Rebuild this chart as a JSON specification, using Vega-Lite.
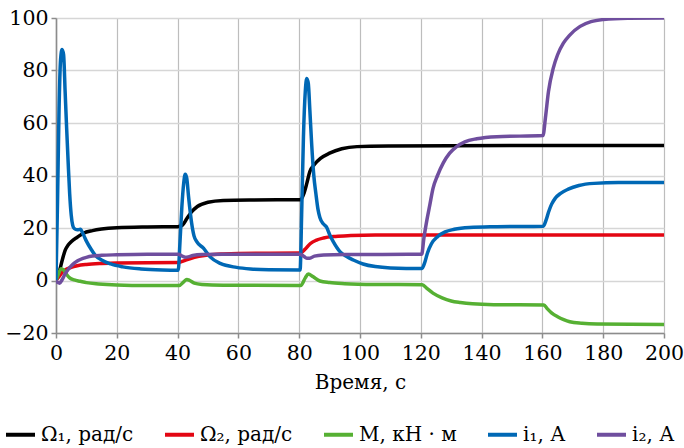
{
  "$schema": "https://vega.github.io/schema/vega-lite/v6.json",
  "width": 608,
  "height": 315,
  "autosize": "none",
  "padding": {"left": 56, "top": 18, "right": 20, "bottom": 115},
  "background": "white",
  "config": {
    "font": "DejaVu Serif",
    "view": {"stroke": null},
    "axis": {
      "labelFont": "DejaVu Serif",
      "titleFont": "DejaVu Serif",
      "labelFontSize": 20.5,
      "titleFontSize": 20,
      "labelColor": "#000",
      "titleColor": "#000",
      "titleFontWeight": "normal",
      "domainColor": "#8c8c8c",
      "domainWidth": 1.6,
      "tickColor": "#8c8c8c",
      "tickWidth": 1.5,
      "tickSize": 5
    }
  },
  "datasets": {
    "d": [
      {"s":"O1","t":0,"v":0},{"s":"O1","t":1,"v":3},{"s":"O1","t":2,"v":7.5},{"s":"O1","t":3,"v":11.5},{"s":"O1","t":4,"v":13.5},{"s":"O1","t":5,"v":14.8},{"s":"O1","t":7,"v":16.5},{"s":"O1","t":9,"v":18},{"s":"O1","t":12,"v":19},{"s":"O1","t":15,"v":19.6},{"s":"O1","t":20,"v":20.1},{"s":"O1","t":30,"v":20.4},{"s":"O1","t":40,"v":20.5},{"s":"O1","t":41.5,"v":21},{"s":"O1","t":43,"v":23.5},{"s":"O1","t":44.5,"v":26},{"s":"O1","t":46.5,"v":28.2},{"s":"O1","t":50,"v":29.8},{"s":"O1","t":55,"v":30.5},{"s":"O1","t":65,"v":30.7},{"s":"O1","t":80.5,"v":30.8},{"s":"O1","t":81.5,"v":33},{"s":"O1","t":82.5,"v":37},{"s":"O1","t":83.5,"v":41.5},{"s":"O1","t":85,"v":44.2},{"s":"O1","t":87,"v":46.5},{"s":"O1","t":90,"v":48.5},{"s":"O1","t":94,"v":50.2},{"s":"O1","t":99,"v":51},{"s":"O1","t":110,"v":51.2},{"s":"O1","t":150,"v":51.4},{"s":"O1","t":200,"v":51.4},

      {"s":"O2","t":0,"v":0},{"s":"O2","t":1,"v":1.5},{"s":"O2","t":2,"v":3},{"s":"O2","t":3,"v":4},{"s":"O2","t":5,"v":5},{"s":"O2","t":7,"v":5.6},{"s":"O2","t":10,"v":6.1},{"s":"O2","t":15,"v":6.5},{"s":"O2","t":20,"v":6.7},{"s":"O2","t":40.5,"v":6.9},{"s":"O2","t":42,"v":7.5},{"s":"O2","t":44,"v":8.3},{"s":"O2","t":47,"v":9.2},{"s":"O2","t":50,"v":9.7},{"s":"O2","t":55,"v":10.1},{"s":"O2","t":60,"v":10.3},{"s":"O2","t":80.5,"v":10.5},{"s":"O2","t":82,"v":12},{"s":"O2","t":83.6,"v":14},{"s":"O2","t":85.5,"v":15.3},{"s":"O2","t":88,"v":16.2},{"s":"O2","t":92,"v":16.8},{"s":"O2","t":97,"v":17.1},{"s":"O2","t":105,"v":17.3},{"s":"O2","t":200,"v":17.3},

      {"s":"M","t":0,"v":0},{"s":"M","t":0.8,"v":2.5},{"s":"M","t":1.7,"v":4.5},{"s":"M","t":2.5,"v":4},{"s":"M","t":3.5,"v":2.3},{"s":"M","t":4.5,"v":1},{"s":"M","t":6,"v":0.2},{"s":"M","t":8,"v":-0.3},{"s":"M","t":10,"v":-0.8},{"s":"M","t":14,"v":-1.3},{"s":"M","t":20,"v":-1.7},{"s":"M","t":30,"v":-1.9},{"s":"M","t":40.5,"v":-1.9},{"s":"M","t":42,"v":-0.5},{"s":"M","t":43,"v":0.4},{"s":"M","t":44,"v":0},{"s":"M","t":45.5,"v":-1},{"s":"M","t":48,"v":-1.5},{"s":"M","t":55,"v":-1.8},{"s":"M","t":80.5,"v":-1.9},{"s":"M","t":82,"v":1},{"s":"M","t":83,"v":2.5},{"s":"M","t":84.5,"v":1.5},{"s":"M","t":86.8,"v":-0.2},{"s":"M","t":90,"v":-0.8},{"s":"M","t":95,"v":-1.2},{"s":"M","t":105,"v":-1.5},{"s":"M","t":120.5,"v":-1.6},{"s":"M","t":122,"v":-3},{"s":"M","t":124,"v":-4.8},{"s":"M","t":127,"v":-6.6},{"s":"M","t":130,"v":-7.8},{"s":"M","t":133,"v":-8.4},{"s":"M","t":137,"v":-8.9},{"s":"M","t":144,"v":-9.2},{"s":"M","t":160.5,"v":-9.3},{"s":"M","t":161.5,"v":-10.6},{"s":"M","t":163,"v":-12.3},{"s":"M","t":165,"v":-13.8},{"s":"M","t":167,"v":-14.9},{"s":"M","t":169,"v":-15.7},{"s":"M","t":173,"v":-16.3},{"s":"M","t":178,"v":-16.6},{"s":"M","t":200,"v":-16.8},

      {"s":"i1","t":0,"v":0},{"s":"i1","t":0.5,"v":30},{"s":"i1","t":1,"v":65},{"s":"i1","t":1.5,"v":84},{"s":"i1","t":2,"v":88},{"s":"i1","t":2.5,"v":86},{"s":"i1","t":3,"v":72},{"s":"i1","t":3.5,"v":58},{"s":"i1","t":4,"v":45},{"s":"i1","t":4.5,"v":33},{"s":"i1","t":5,"v":25},{"s":"i1","t":5.5,"v":21},{"s":"i1","t":6,"v":19.8},{"s":"i1","t":7,"v":19.3},{"s":"i1","t":8,"v":19.5},{"s":"i1","t":9,"v":17.5},{"s":"i1","t":10,"v":15},{"s":"i1","t":11.5,"v":12},{"s":"i1","t":13,"v":9.5},{"s":"i1","t":15,"v":7.8},{"s":"i1","t":18,"v":6.3},{"s":"i1","t":22,"v":5.2},{"s":"i1","t":28,"v":4.4},{"s":"i1","t":35,"v":4},{"s":"i1","t":40.2,"v":3.9},{"s":"i1","t":40.8,"v":15},{"s":"i1","t":41.4,"v":28},{"s":"i1","t":42,"v":37},{"s":"i1","t":42.5,"v":40.5},{"s":"i1","t":43,"v":39},{"s":"i1","t":43.6,"v":32},{"s":"i1","t":44.6,"v":22},{"s":"i1","t":45.4,"v":17},{"s":"i1","t":46.3,"v":14.8},{"s":"i1","t":48.5,"v":12.3},{"s":"i1","t":50.7,"v":9},{"s":"i1","t":54,"v":6.5},{"s":"i1","t":59.4,"v":5},{"s":"i1","t":64,"v":4.4},{"s":"i1","t":70,"v":4.1},{"s":"i1","t":80.3,"v":4},{"s":"i1","t":80.8,"v":25},{"s":"i1","t":81.4,"v":55},{"s":"i1","t":82,"v":72},{"s":"i1","t":82.5,"v":77},{"s":"i1","t":83,"v":75},{"s":"i1","t":83.5,"v":65},{"s":"i1","t":84.1,"v":52},{"s":"i1","t":84.8,"v":40},{"s":"i1","t":85.5,"v":33},{"s":"i1","t":86.2,"v":27},{"s":"i1","t":86.8,"v":24},{"s":"i1","t":88,"v":21.5},{"s":"i1","t":89,"v":20.3},{"s":"i1","t":90,"v":17.5},{"s":"i1","t":91.2,"v":14.8},{"s":"i1","t":93.4,"v":11},{"s":"i1","t":95.5,"v":9.2},{"s":"i1","t":97.8,"v":7.8},{"s":"i1","t":101,"v":6.3},{"s":"i1","t":105,"v":5.3},{"s":"i1","t":110,"v":4.8},{"s":"i1","t":120.4,"v":4.6},{"s":"i1","t":121.2,"v":6.5},{"s":"i1","t":122.2,"v":10.5},{"s":"i1","t":123.5,"v":14},{"s":"i1","t":125.5,"v":16.7},{"s":"i1","t":128,"v":18.5},{"s":"i1","t":131,"v":19.5},{"s":"i1","t":136,"v":20.2},{"s":"i1","t":145,"v":20.5},{"s":"i1","t":160.3,"v":20.7},{"s":"i1","t":161.2,"v":23},{"s":"i1","t":162,"v":26},{"s":"i1","t":163,"v":29},{"s":"i1","t":164.2,"v":31.3},{"s":"i1","t":166,"v":33.2},{"s":"i1","t":168.5,"v":34.8},{"s":"i1","t":172,"v":36.2},{"s":"i1","t":177,"v":37},{"s":"i1","t":185,"v":37.3},{"s":"i1","t":200,"v":37.3},

      {"s":"i2","t":0,"v":0},{"s":"i2","t":0.6,"v":-0.8},{"s":"i2","t":1.2,"v":-1},{"s":"i2","t":2,"v":0.3},{"s":"i2","t":3,"v":2.5},{"s":"i2","t":4,"v":4.2},{"s":"i2","t":5,"v":5.5},{"s":"i2","t":6,"v":6.6},{"s":"i2","t":7,"v":7.4},{"s":"i2","t":8,"v":8},{"s":"i2","t":10,"v":8.8},{"s":"i2","t":12,"v":9.3},{"s":"i2","t":15,"v":9.6},{"s":"i2","t":20,"v":9.8},{"s":"i2","t":30,"v":10},{"s":"i2","t":40.3,"v":10},{"s":"i2","t":41.5,"v":9.3},{"s":"i2","t":42.5,"v":8.9},{"s":"i2","t":43.5,"v":9},{"s":"i2","t":45,"v":9.5},{"s":"i2","t":48,"v":9.9},{"s":"i2","t":55,"v":10},{"s":"i2","t":80.3,"v":10},{"s":"i2","t":81.5,"v":9.2},{"s":"i2","t":82.5,"v":8.5},{"s":"i2","t":83.5,"v":8.5},{"s":"i2","t":85,"v":9.3},{"s":"i2","t":88,"v":9.7},{"s":"i2","t":95,"v":9.9},{"s":"i2","t":120.3,"v":10},{"s":"i2","t":121,"v":16},{"s":"i2","t":122,"v":23},{"s":"i2","t":123,"v":29},{"s":"i2","t":124,"v":35},{"s":"i2","t":125.5,"v":40},{"s":"i2","t":127.4,"v":44.8},{"s":"i2","t":129.5,"v":48.5},{"s":"i2","t":131.8,"v":51},{"s":"i2","t":134.5,"v":52.8},{"s":"i2","t":138.4,"v":54},{"s":"i2","t":145,"v":54.8},{"s":"i2","t":160.2,"v":55.2},{"s":"i2","t":161,"v":62},{"s":"i2","t":162,"v":72},{"s":"i2","t":163.6,"v":81},{"s":"i2","t":165,"v":86},{"s":"i2","t":166.9,"v":90.4},{"s":"i2","t":169,"v":93.5},{"s":"i2","t":172.4,"v":96.8},{"s":"i2","t":176,"v":98.6},{"s":"i2","t":180,"v":99.4},{"s":"i2","t":188,"v":99.9},{"s":"i2","t":200,"v":100}
    ]
  },
  "data": {"name": "d"},
  "mark": {"type": "line", "strokeWidth": 3.5, "interpolate": "monotone", "clip": true},
  "encoding": {
    "x": {
      "field": "t", "type": "quantitative",
      "scale": {"domain": [0, 200], "nice": false},
      "axis": {"values": [0,20,40,60,80,100,120,140,160,180,200], "title": "Время, с", "labelPadding": 5, "titlePadding": 9, "grid": true, "gridColor": "#bdbdbd", "gridWidth": 1.2, "labelFlush": false}
    },
    "y": {
      "field": "v", "type": "quantitative",
      "scale": {"domain": [-20, 100], "nice": false},
      "axis": {"values": [-20,0,20,40,60,80,100], "title": null, "labelPadding": 3, "grid": true, "gridColor": "#d6d6d6", "gridWidth": 1.5, "labelFlush": false}
    },
    "color": {
      "field": "s", "type": "nominal",
      "scale": {"domain": ["O1","O2","M","i1","i2"], "range": ["#000000","#e30613","#56b033","#0068b5","#6f4e9e"]},
      "legend": {
        "title": null,
        "orient": "none",
        "legendX": -52,
        "legendY": 400,
        "direction": "horizontal",
        "columns": 5,
        "columnPadding": 23,
        "symbolType": "stroke",
        "symbolSize": 841,
        "symbolStrokeWidth": 4,
        "labelFont": "DejaVu Serif",
        "labelFontSize": 20,
        "labelColor": "#000",
        "labelOffset": 4,
        "labelExpr": "datum.label == 'O1' ? 'Ω₁, рад/с' : datum.label == 'O2' ? 'Ω₂, рад/с' : datum.label == 'M' ? 'M, кН · м' : datum.label == 'i1' ? 'i₁, А' : 'i₂, А'"
      }
    },
    "order": {"field": "t", "type": "quantitative"}
  }
}
